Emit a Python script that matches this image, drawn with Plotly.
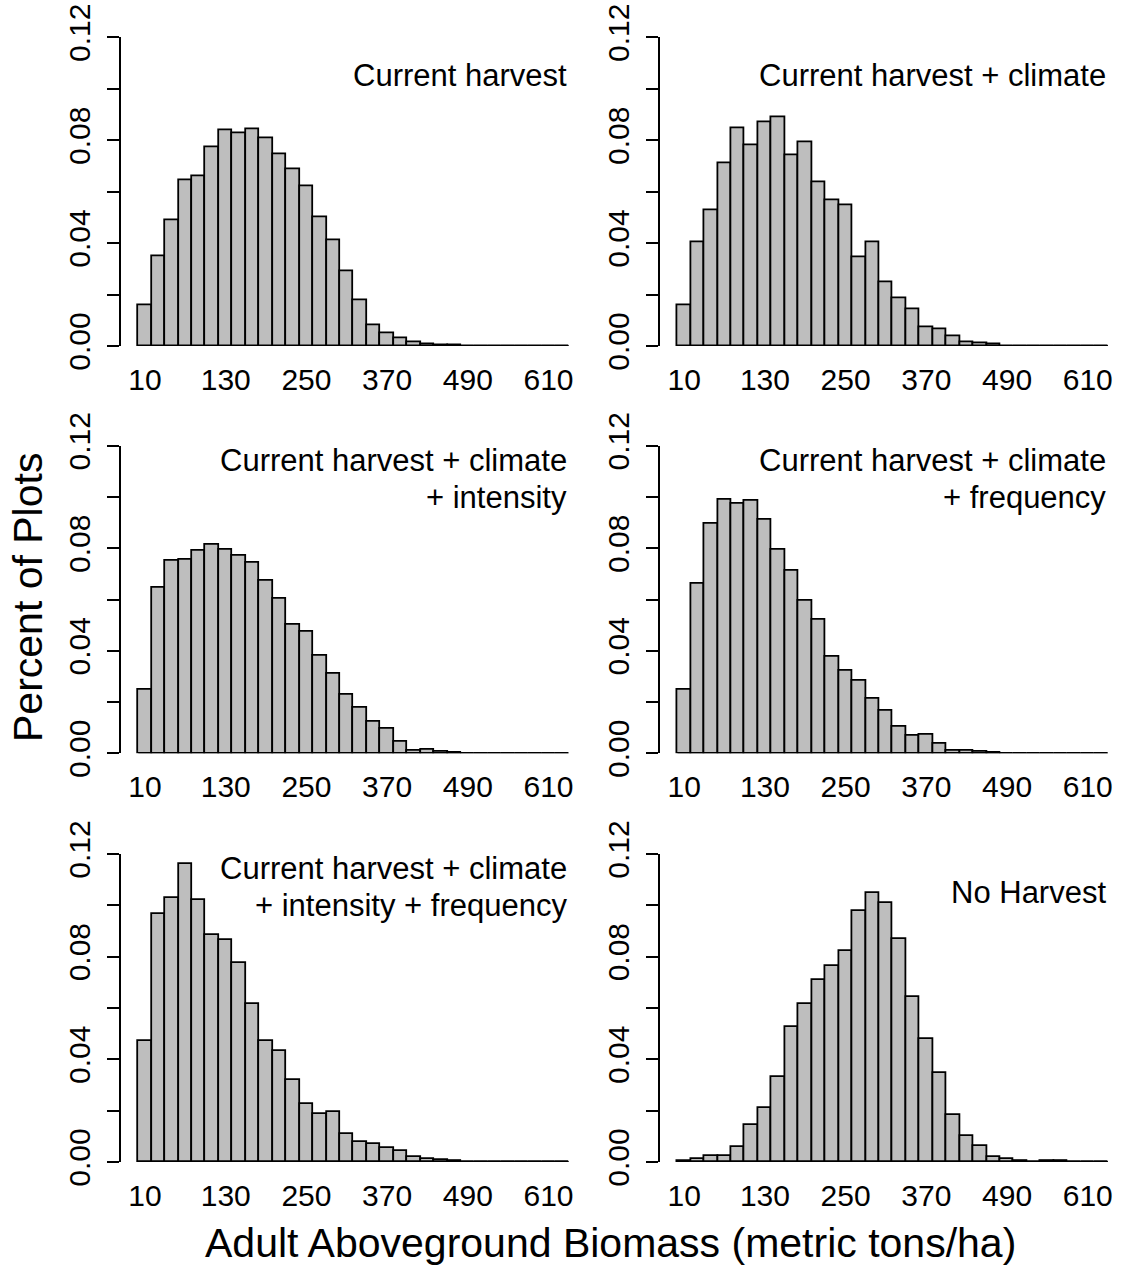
import plotly.graph_objects as go

# ---- data ----
breaks = list(range(0, 660, 20))  # histogram bin edges 0..640
x_tick_vals = [10, 130, 250, 370, 490, 610]
x_tick_text = ["10", "130", "250", "370", "490", "610"]
y_tick_vals = [0.0, 0.02, 0.04, 0.06, 0.08, 0.10, 0.12]
y_tick_text = ["0.00", "", "0.04", "", "0.08", "", "0.12"]

current_harvest = [0.0157, 0.0350, 0.0490, 0.0645, 0.0661, 0.0774, 0.0837, 0.0827,
                   0.0842, 0.0806, 0.0746, 0.0687, 0.0622, 0.0501, 0.0412, 0.0289,
                   0.0179, 0.0080, 0.0049, 0.0029, 0.0013, 0.0008, 0.0004, 0.0003,
                   0, 0, 0, 0, 0, 0, 0, 0]
harvest_climate = [0.0159, 0.0403, 0.0529, 0.0709, 0.0845, 0.0779, 0.0870, 0.0888,
                   0.0743, 0.0792, 0.0638, 0.0565, 0.0547, 0.0346, 0.0404, 0.0249,
                   0.0187, 0.0144, 0.0071, 0.0065, 0.0036, 0.0014, 0.0009, 0.0006,
                   0, 0, 0, 0, 0, 0, 0, 0]
harvest_climate_intensity = [0.0250, 0.0646, 0.0750, 0.0755, 0.0789, 0.0813, 0.0796, 0.0770,
                             0.0744, 0.0672, 0.0603, 0.0501, 0.0475, 0.0382, 0.0311, 0.0228,
                             0.0178, 0.0125, 0.0095, 0.0046, 0.0009, 0.0014, 0.0005, 0.0003,
                             0, 0, 0, 0, 0, 0, 0, 0]
harvest_climate_frequency = [0.0248, 0.0662, 0.0896, 0.0991, 0.0975, 0.0985, 0.0913, 0.0793,
                             0.0711, 0.0594, 0.0520, 0.0378, 0.0322, 0.0285, 0.0212, 0.0166,
                             0.0104, 0.0068, 0.0073, 0.0038, 0.0010, 0.0012, 0.0005, 0.0004,
                             0, 0, 0, 0, 0, 0, 0, 0]
harvest_climate_int_freq = [0.0471, 0.0966, 0.1029, 0.1162, 0.1022, 0.0884, 0.0864, 0.0777,
                            0.0614, 0.0471, 0.0432, 0.0319, 0.0226, 0.0187, 0.0194, 0.0110,
                            0.0077, 0.0070, 0.0053, 0.0042, 0.0018, 0.0010, 0.0008, 0.0004,
                            0, 0, 0, 0, 0, 0, 0, 0]
no_harvest = [0.0002, 0.0010, 0.0025, 0.0025, 0.0060, 0.0143, 0.0209, 0.0331,
              0.0526, 0.0616, 0.0710, 0.0762, 0.0821, 0.0977, 0.1049, 0.1010,
              0.0870, 0.0643, 0.0478, 0.0345, 0.0183, 0.0103, 0.0062, 0.0018,
              0.0013, 0.0003, 0, 0.0002, 0.0002, 0, 0, 0]

panel_labels = [
    ["Current harvest"],
    ["Current harvest + climate"],
    ["Current harvest + climate", "+ intensity"],
    ["Current harvest + climate", "+ frequency"],
    ["Current harvest + climate", "+ intensity + frequency"],
    ["No Harvest"],
]
panel_values = [current_harvest, harvest_climate, harvest_climate_intensity,
                harvest_climate_frequency, harvest_climate_int_freq, no_harvest]

# ---- layout geometry ----
W, H = 1124, 1268
FONT = "Liberation Sans, Arial, sans-serif"
col_domains = [(121.1 / W, 585.9 / W), (660.3 / W, 1.0)]
col_ranges = [(-25.6, 665.6), (-25.6, 663.9)]
row_domains = [(1 - 346.0 / H, 1 - 37.3 / H),
               (1 - 753.3 / H, 1 - 445.7 / H),
               (1 - 1162.0 / H, 1 - 854.0 / H)]
label_y = {1: [0.105], 2: [0.1144, 0.0998]}

centers = [(breaks[i] + breaks[i + 1]) / 2 for i in range(len(breaks) - 1)]
bin_w = breaks[1] - breaks[0]

fig = go.Figure()
layout = dict(width=W, height=H,
              margin=dict(l=0, r=0, t=0, b=0, pad=0, autoexpand=False),
              paper_bgcolor="white", plot_bgcolor="white",
              font=dict(family=FONT, color="black"), showlegend=False,
              bargap=0)
annotations = []

for i, (vals, labels) in enumerate(zip(panel_values, panel_labels)):
    row, col = divmod(i, 2)
    n = i + 1
    xa = "x" if n == 1 else f"x{n}"
    ya = "y" if n == 1 else f"y{n}"
    fig.add_trace(go.Bar(x=centers, y=vals, width=bin_w, xaxis=xa, yaxis=ya,
                         marker=dict(color="#BEBEBE", line=dict(color="black", width=1.8)),
                         cliponaxis=False, hoverinfo="skip"))
    fig.add_trace(go.Scatter(x=[breaks[0], breaks[-1]], y=[0, 0], xaxis=xa, yaxis=ya,
                             mode="lines", line=dict(color="black", width=1.8),
                             cliponaxis=False, hoverinfo="skip"))
    layout[f"xaxis{n}"] = dict(domain=list(col_domains[col]), range=list(col_ranges[col]),
                               anchor=ya, showline=False, showgrid=False, zeroline=False,
                               ticks="", tickvals=x_tick_vals, ticktext=x_tick_text,
                               tickfont=dict(size=30, family=FONT, color="black"),
                               ticklabelstandoff=13, automargin=False, fixedrange=True)
    layout[f"yaxis{n}"] = dict(domain=list(row_domains[row]), range=[0, 0.12],
                               anchor=xa, showline=True, linecolor="black", linewidth=1.8,
                               showgrid=False, zeroline=False,
                               ticks="outside", ticklen=12, tickwidth=1.8, tickcolor="black",
                               tickvals=y_tick_vals, ticktext=y_tick_text, tickangle=-90,
                               tickfont=dict(size=30, family=FONT, color="black"),
                               ticklabelstandoff=5, automargin=False, fixedrange=True)
    ys = label_y[len(labels)]
    for txt, yy in zip(labels, ys):
        annotations.append(dict(text=txt, x=breaks[-1], y=yy, xref=xa, yref=ya,
                                xanchor="right", yanchor="middle", showarrow=False,
                                font=dict(size=31, family=FONT, color="black")))

annotations.append(dict(text="Adult Aboveground Biomass (metric tons/ha)",
                        x=610 / W, y=1 - 1243 / H, xref="paper", yref="paper",
                        xanchor="center", yanchor="middle", showarrow=False,
                        font=dict(size=41, family=FONT, color="black")))
annotations.append(dict(text="Percent of Plots", textangle=-90,
                        x=28 / W, y=1 - 598 / H, xref="paper", yref="paper",
                        xanchor="center", yanchor="middle", showarrow=False,
                        font=dict(size=41, family=FONT, color="black")))
layout["annotations"] = annotations
fig.update_layout(**layout)
fig.write_html("out.html")
